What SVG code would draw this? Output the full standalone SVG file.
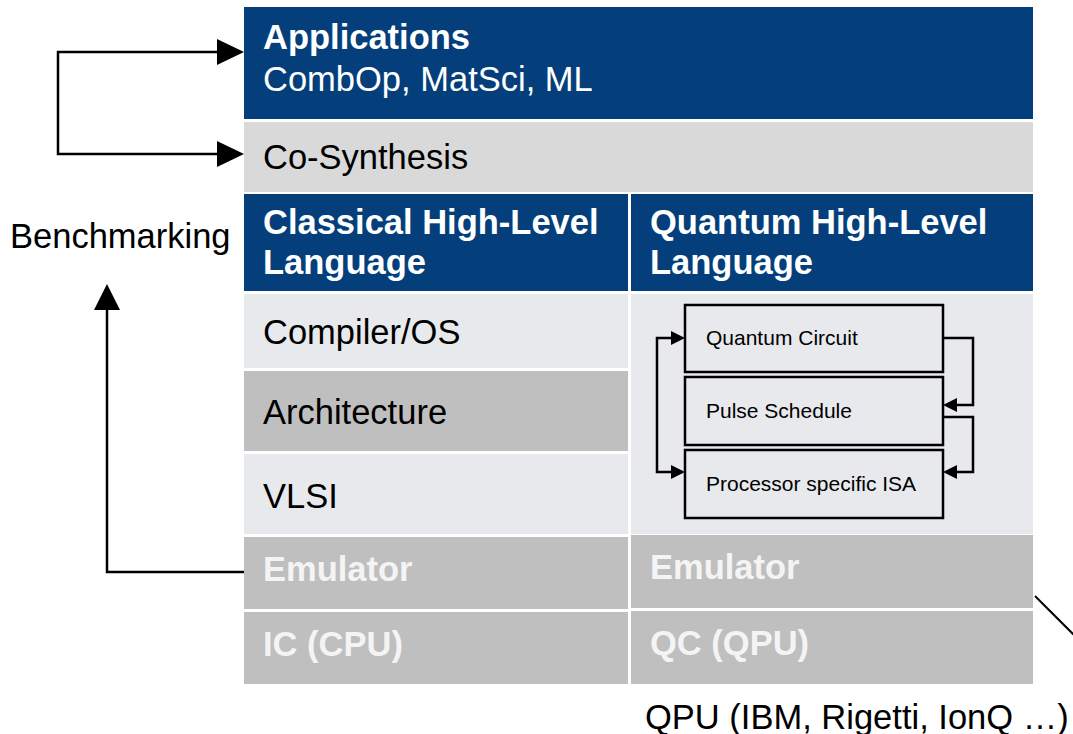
<svg xmlns="http://www.w3.org/2000/svg" width="1073" height="734" viewBox="0 0 1073 734">
  <style>
    .dark { fill: #043f7c; }
    .mid { fill: #d9d9d9; }
    .light { fill: #e8e9ed; }
    .gray { fill: #bfbfbf; }
    text { font-family: "Liberation Sans", Arial, sans-serif; }
    .hw { fill: #ffffff; font-size: 34.5px; font-weight: bold; }
    .hr { fill: #ffffff; font-size: 34.5px; }
    .lbl { fill: #000000; font-size: 34.5px; }
    .emu { fill: #f4f4f4; font-size: 34.5px; font-weight: bold; }
    .small { fill: #000000; font-size: 21px; }
    .box { fill: none; stroke: #000000; stroke-width: 2.5; }
    .wire { fill: none; stroke: #000000; stroke-width: 2.5; }
    .thin { fill: none; stroke: #000000; stroke-width: 2; }
    .head { fill: #000000; }
  </style>

  <rect width="1073" height="734" fill="#ffffff"/>

  <g id="applications">
    <rect class="dark" x="244" y="7" width="789" height="112"/>
    <text class="hw" x="263" y="49">Applications</text>
    <text class="hr" x="263" y="91">CombOp, MatSci, ML</text>
  </g>

  <g id="co-synthesis">
    <rect class="mid" x="244" y="122" width="789" height="70"/>
    <text class="lbl" x="263" y="169">Co-Synthesis</text>
  </g>

  <g id="classical-hll">
    <rect class="dark" x="244" y="194" width="384" height="97"/>
    <text class="hw" x="263" y="234">Classical High-Level</text>
    <text class="hw" x="263" y="274">Language</text>
  </g>

  <g id="quantum-hll">
    <rect class="dark" x="631" y="194" width="402" height="97"/>
    <text class="hw" x="650" y="234">Quantum High-Level</text>
    <text class="hw" x="650" y="274">Language</text>
  </g>

  <g id="compiler-os">
    <rect class="light" x="244" y="294" width="384" height="74"/>
    <text class="lbl" x="263" y="344">Compiler/OS</text>
  </g>

  <g id="architecture">
    <rect class="gray" x="244" y="371" width="384" height="80"/>
    <text class="lbl" x="263" y="424">Architecture</text>
  </g>

  <g id="vlsi">
    <rect class="light" x="244" y="454" width="384" height="80"/>
    <text class="lbl" x="263" y="508">VLSI</text>
  </g>

  <g id="quantum-stack">
    <rect class="light" x="631" y="294" width="402" height="240"/>
    <g id="quantum-circuit">
      <rect class="box" x="685" y="305" width="258" height="67"/>
      <text class="small" x="706" y="345">Quantum Circuit</text>
    </g>
    <g id="pulse-schedule">
      <rect class="box" x="685" y="377" width="258" height="68"/>
      <text class="small" x="706" y="418">Pulse Schedule</text>
    </g>
    <g id="processor-isa">
      <rect class="box" x="685" y="450" width="258" height="68"/>
      <text class="small" x="706" y="491">Processor specific ISA</text>
    </g>
  </g>

  <g id="emulator-classical">
    <rect class="gray" x="244" y="537" width="384" height="72"/>
    <text class="emu" x="263" y="581">Emulator</text>
  </g>

  <g id="ic-cpu">
    <rect class="gray" x="244" y="612" width="384" height="72"/>
    <text class="emu" x="263" y="656">IC (CPU)</text>
  </g>

  <g id="emulator-quantum">
    <rect class="gray" x="631" y="535" width="402" height="73"/>
    <text class="emu" x="650" y="579">Emulator</text>
  </g>

  <g id="qc-qpu">
    <rect class="gray" x="631" y="611" width="402" height="73"/>
    <text class="emu" x="650" y="655">QC (QPU)</text>
  </g>

  <g id="labels">
    <text class="lbl" x="10" y="248">Benchmarking</text>
    <text class="lbl" x="645" y="729">QPU (IBM, Rigetti, IonQ …)</text>
  </g>

  <g id="connectors">
    <!-- benchmarking feedback into the application layers -->
    <path class="wire" d="M218,52 H58 V154 H218"/>
    <path class="head" d="M217,39 L244,52 L217,65 Z"/>
    <path class="head" d="M217,141 L244,154 L217,167 Z"/>
    <!-- emulator output to benchmarking -->
    <path class="wire" d="M244,572 H107 V308"/>
    <path class="head" d="M94,310 L107,284 L120,310 Z"/>
    <!-- quantum toolchain loops -->
    <path class="wire" d="M673,338 H657 V472 H673"/>
    <path class="head" d="M671,331 L685,338 L671,345 Z"/>
    <path class="head" d="M671,465 L685,472 L671,479 Z"/>
    <path class="wire" d="M943,338 H973 V405 H955"/>
    <path class="head" d="M957,398 L943,405 L957,412 Z"/>
    <path class="wire" d="M943,417 H973 V472 H955"/>
    <path class="head" d="M957,465 L943,472 L957,479 Z"/>
    <!-- pointer toward physical QPU -->
    <path class="thin" d="M1035,596 L1075,636"/>
  </g>
</svg>
